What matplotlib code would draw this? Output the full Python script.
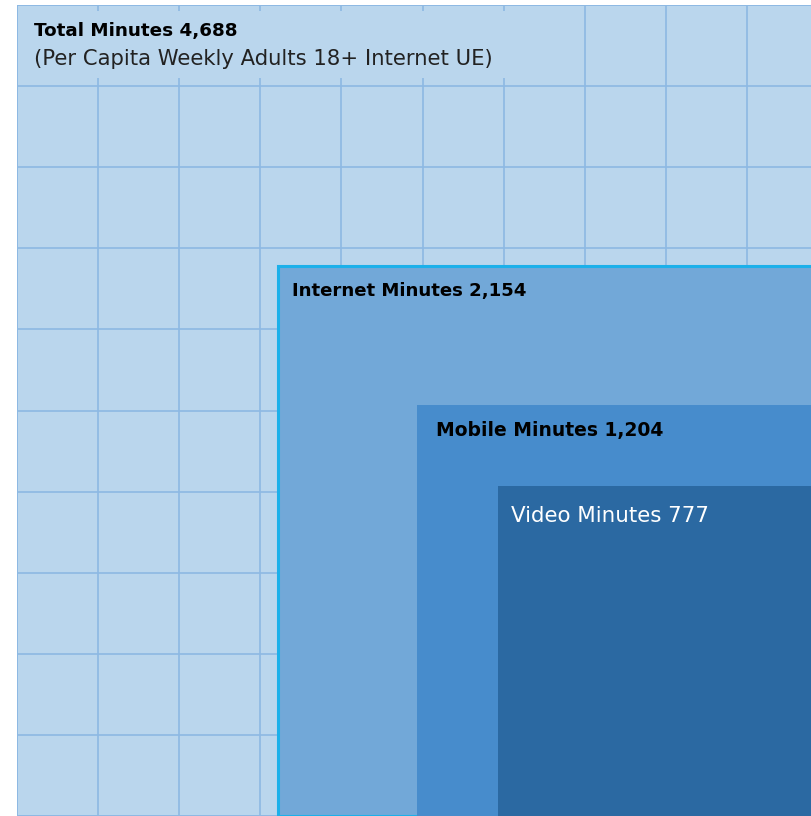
import matplotlib.pyplot as plt
from matplotlib.patches import Rectangle
import numpy as np

# minutes per capita weekly, adults 18+
labels = ['Total Minutes', 'Internet Minutes', 'Mobile Minutes', 'Video Minutes']
minutes = [4688, 2154, 1204, 777]
subtitle = '(Per Capita Weekly Adults 18+ Internet UE)'

fills = ['#BAD6ED', '#72A8D8', '#478CCC', '#2B69A2']
edges = ['#8DB9E3', '#1CB0EA', 'none', 'none']
edge_w = [1.2, 2.2, 0, 0]
weights = ['bold', 'bold', 'bold', 'normal']
sizes = [13.2, 13.1, 13.5, 15.4]
text_cols = ['black', 'black', 'black', 'white']
# label offsets from each square's top-left corner (points)
offsets = [(12, -19), (10, -17.5), (13.5, -18), (9.5, -21.5)]

plt.rcParams['font.family'] = ['DejaVu Sans']

fig = plt.figure(figsize=(8.11, 8.16), dpi=100)
S = np.sqrt(minutes[0])
px = 811 / S  # pixels per data unit
ax = fig.add_axes([17 / 811, 0, 794 / 811, 811 / 816])
ax.set_xlim(0, 794 / px)
ax.set_ylim(0, S)
ax.axis('off')

# squares anchored at the bottom-right corner, area ~ minutes
sides = np.sqrt(minutes)
for i, (side, lab, val) in enumerate(zip(sides, labels, minutes)):
    left = S - side
    ax.add_patch(Rectangle((left, 0), side, side, facecolor=fills[i],
                           edgecolor=edges[i], linewidth=edge_w[i],
                           zorder=2 + 2 * i, clip_on=True))
    if i == 0:
        # grid over the total square
        for k in range(11):
            g = S * k / 10
            ax.plot([g, g], [0, S], color='#8DB9E3', lw=1.2, zorder=2.5)
            ax.plot([0, S], [g, g], color='#8DB9E3', lw=1.2, zorder=2.5)
        # title backing box hides the grid under the heading
        ax.add_patch(Rectangle((1.5 / px, S - 73 / px), 486 / px, 67 / px,
                               facecolor=fills[0], edgecolor='none', zorder=3))
    ax.annotate(f'{lab} {val:,}', xy=(left, side), xytext=offsets[i],
                textcoords='offset points', ha='left', va='center',
                fontsize=sizes[i], fontweight=weights[i], color=text_cols[i],
                zorder=10 + i)

ax.annotate(subtitle, xy=(0, S), xytext=(12, -39), textcoords='offset points',
            ha='left', va='center', fontsize=15.2, color='#222222', zorder=10)

fig.savefig('out.png', dpi=100)
